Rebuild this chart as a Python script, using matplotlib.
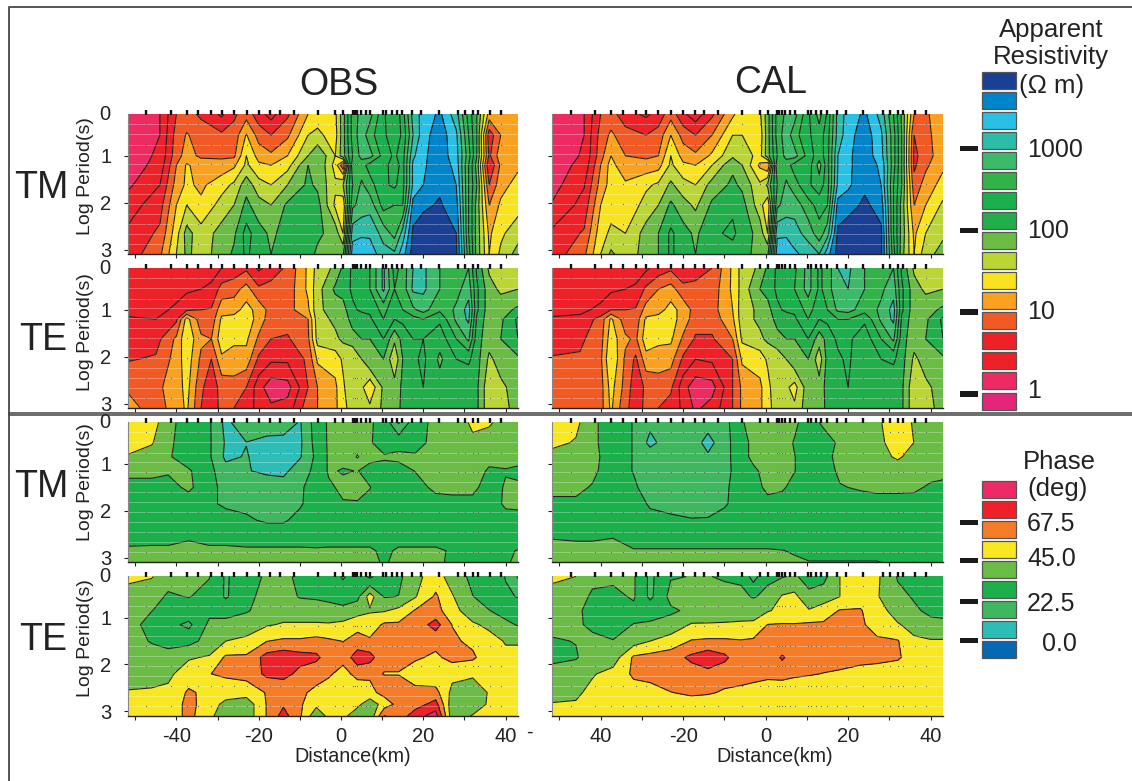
import numpy as np
import matplotlib
matplotlib.use('Agg')
import matplotlib.pyplot as plt
from matplotlib.patches import Rectangle

plt.rcParams['font.family'] = ['Liberation Sans', 'DejaVu Sans']

W, H = 1132, 781

# station positions along the profile (km)
stations = [-47.3, -41.4, -37.5, -34.7, -31.5, -29, -26, -22.9, -20, -17.2, -14.9, -11.5,
            -5.7, -1.4, 0.5, 2.8, 3.3, 3.9, 4.8, 6, 7.1, 10.3, 11, 12.3, 13.5, 14.8,
            17.3, 19.5, 23.7, 28.4, 30.1, 32, 33.3, 36.1, 38.8]
# periods sampled (log s)
sample_rows = [0.33, 0.54, 0.76, 0.97, 1.18, 1.39, 1.61, 1.82, 2.03, 2.24, 2.46, 2.67, 2.88]
dot_rows = [0.33, 0.76, 1.18, 1.61, 2.03, 2.46, 2.88]

# grid nodes for the resistivity sections
rho_rows = [0.11, 0.56, 1.0, 1.2, 1.62, 2.05, 2.65, 3.09]
x_tm = [-51.8, -44, -40, -37.5, -34, -29, -26, -23, -20, -17, -13, -8, -5.7, -1.4, 0.5, 2.8,
        5, 7, 10.3, 13, 15, 17.5, 20, 24, 28, 31, 33, 36, 38.8, 43]
x_te = [-51.8, -45, -40, -37.5, -34, -31.5, -29, -26, -23, -20, -17, -13, -8, -5.7, -1.4, 0.5, 2.8,
        5, 7, 10.3, 13, 15, 17.5, 20, 24, 28, 31, 33, 36, 38.8, 43]

# log10 apparent resistivity, one list per column of x_tm / x_te
rho_tm_obs = [
    [.1, .1, .1, .1, .2, .38, .55, .6],
    [.25, .25, .3, .35, .5, .65, .8, .95],
    [.75, .85, .9, 1.0, 1.1, 1.25, 1.4, 1.5],
    [.85, 1.02, 1.1, 1.28, 1.3, 1.5, 1.85, 1.8],
    [.7, .9, .95, 1.15, 1.2, 1.3, 1.6, 1.65],
    [.45, .8, .95, 1.1, 1.4, 1.6, 1.85, 1.85],
    [.7, .85, .95, 1.2, 1.55, 1.75, 1.95, 2.05],
    [.9, 1.27, 1.5, 1.55, 1.9, 2.07, 2.35, 2.3],
    [.6, .9, 1.15, 1.3, 1.6, 1.85, 2.1, 2.1],
    [.4, .75, 1.05, 1.25, 1.5, 1.75, 1.95, 2.0],
    [.7, .95, 1.25, 1.4, 1.75, 2.05, 2.1, 2.25],
    [1.25, 1.5, 1.75, 2.0, 2.05, 2.2, 2.25, 2.1],
    [1.4, 1.55, 1.98, 2.0, 1.95, 2.1, 2.05, 1.95],
    [1.45, 1.4, 1.5, 1.4, 1.55, 1.45, 1.9, 1.9],
    [1.9, 1.9, 1.9, .8, 1.75, 1.3, 1.5, 1.95],
    [2.6, 2.6, 2.5, 2.7, 2.5, 2.7, 3.15, 3.4],
    [2.85, 2.9, 2.85, 2.6, 2.8, 2.85, 3.2, 3.45],
    [2.85, 2.6, 2.85, 2.4, 2.6, 2.9, 3.2, 3.4],
    [2.3, 2.3, 2.4, 2.4, 2.3, 2.4, 2.9, 3.1],
    [2.0, 2.1, 2.2, 2.05, 2.2, 2.5, 2.65, 3.05],
    [2.4, 2.3, 2.4, 2.4, 2.4, 2.5, 3.1, 3.4],
    [3.1, 3.0, 3.2, 3.3, 3.3, 3.6, 3.8, 3.85],
    [3.35, 3.4, 3.45, 3.45, 3.5, 3.7, 3.9, 3.95],
    [3.55, 3.65, 3.65, 3.7, 3.7, 3.78, 3.95, 3.95],
    [3.1, 3.3, 3.35, 3.4, 3.5, 3.6, 3.75, 3.8],
    [2.4, 2.5, 2.6, 2.5, 2.5, 2.5, 2.5, 2.6],
    [2.0, 2.0, 2.0, 1.9, 2.0, 1.9, 1.9, 1.9],
    [1.15, .6, .7, .5, .75, 1.0, 1.2, 1.25],
    [1.2, 1.0, 1.15, 1.05, 1.15, 1.3, 1.45, 1.55],
    [1.2, 1.2, 1.2, 1.2, 1.35, 1.4, 1.65, 1.85],
]
rho_tm_cal = [
    [.1, .1, .1, .12, .15, .27, .55, .6],
    [.25, .25, .28, .33, .48, .6, .78, .95],
    [.75, .85, .9, 1.0, 1.1, 1.25, 1.4, 1.5],
    [.85, 1.05, 1.25, 1.35, 1.35, 1.4, 1.55, 1.8],
    [.6, .85, 1.0, 1.05, 1.3, 1.3, 1.5, 1.6],
    [.45, .75, .95, 1.1, 1.45, 1.6, 1.85, 1.85],
    [.6, .85, 1.0, 1.15, 1.55, 1.75, 2.0, 2.0],
    [.9, 1.25, 1.5, 1.55, 1.8, 2.05, 2.3, 2.3],
    [.55, .9, 1.15, 1.3, 1.6, 1.85, 2.1, 2.1],
    [.35, .75, 1.05, 1.25, 1.5, 1.7, 1.95, 2.0],
    [.7, 1.0, 1.3, 1.5, 1.85, 2.05, 2.2, 2.25],
    [1.2, 1.5, 1.7, 1.95, 2.05, 2.2, 2.3, 2.15],
    [1.4, 1.5, 1.65, 1.75, 1.95, 2.1, 2.15, 2.05],
    [1.45, 1.35, 1.4, 1.2, 1.55, 1.6, 1.9, 1.95],
    [1.9, 1.9, 1.9, 1.0, 1.8, 1.3, 1.5, 1.95],
    [2.6, 2.6, 2.5, 2.7, 2.5, 2.7, 3.2, 3.4],
    [2.8, 2.9, 2.85, 2.6, 2.8, 2.85, 3.2, 3.45],
    [2.85, 2.6, 2.85, 2.4, 2.6, 2.9, 3.1, 3.3],
    [2.3, 2.3, 2.4, 2.4, 2.3, 2.6, 2.9, 3.15],
    [1.9, 2.1, 2.1, 1.9, 2.1, 2.4, 2.6, 3.0],
    [2.3, 2.4, 2.4, 2.4, 2.4, 2.5, 2.9, 3.4],
    [3.1, 3.1, 3.25, 3.25, 3.3, 3.6, 3.8, 3.85],
    [3.35, 3.4, 3.45, 3.45, 3.45, 3.65, 3.9, 3.95],
    [3.55, 3.65, 3.65, 3.65, 3.7, 3.8, 3.95, 3.95],
    [3.15, 3.3, 3.35, 3.45, 3.5, 3.65, 3.8, 3.8],
    [2.5, 2.6, 2.6, 2.6, 2.5, 2.5, 2.5, 2.6],
    [1.95, 2.0, 2.0, 2.0, 2.0, 1.9, 1.9, 1.85],
    [1.0, .75, .7, .7, .85, 1.0, 1.2, 1.25],
    [.95, .9, .85, .95, 1.1, 1.25, 1.5, 1.65],
    [1.2, 1.2, 1.2, 1.2, 1.35, 1.55, 1.7, 1.85],
]
rho_te_obs = [
    [.3, .35, .45, .52, .62, .73, .97, 1.08],
    [.3, .35, .42, .5, .65, .78, .95, .9],
    [.3, .4, .55, .7, 1.05, 1.1, 1.1, 1.1],
    [.35, .45, .7, 1.35, 1.45, 1.4, 1.35, 1.3],
    [.3, .5, .75, .85, 1.05, .95, .8, .75],
    [.4, .55, .77, .85, 1.0, .75, .6, .65],
    [.5, .85, 1.15, 1.3, 1.4, 1.2, .85, .8],
    [.6, .9, 1.15, 1.35, 1.3, 1.15, .9, .75],
    [.7, 1.1, 1.35, 1.4, 1.3, 1.15, .75, .65],
    [.45, .8, 1.15, 1.15, .95, .7, .35, .4],
    [.6, .85, .9, .85, .75, .55, .1, .3],
    [.8, .85, .9, .85, .72, .55, .15, .35],
    [1.3, 1.3, 1.2, 1.0, .95, .8, .75, .9],
    [1.6, 1.65, 1.7, 1.65, 1.6, 1.3, 1.0, 1.0],
    [1.8, 2.05, 1.85, 1.8, 1.7, 1.35, 1.2, 1.2],
    [2.05, 2.1, 1.9, 1.85, 1.8, 1.55, 1.45, 1.4],
    [2.3, 2.3, 2.2, 2.1, 1.9, 1.5, 1.75, 1.65],
    [2.4, 2.3, 2.3, 2.1, 2.0, 1.75, 1.55, 1.55],
    [2.5, 2.5, 2.3, 2.2, 2.0, 2.0, 1.3, 1.55],
    [3.05, 3.05, 2.6, 2.5, 2.25, 2.0, 1.8, 1.8],
    [2.4, 2.5, 2.3, 2.25, 1.8, 1.55, 1.85, 1.9],
    [2.6, 2.6, 2.5, 2.3, 2.1, 2.0, 2.05, 2.05],
    [3.0, 3.05, 2.7, 2.4, 2.25, 2.2, 2.2, 2.1],
    [3.05, 3.05, 2.85, 2.5, 2.25, 2.3, 2.25, 2.2],
    [2.75, 2.75, 2.55, 2.3, 2.1, 1.95, 2.1, 2.2],
    [2.75, 2.65, 2.8, 2.8, 2.5, 2.25, 2.1, 2.1],
    [2.75, 2.9, 3.1, 3.05, 2.8, 2.3, 2.05, 2.2],
    [2.2, 2.3, 2.3, 2.2, 2.1, 2.1, 2.05, 2.05],
    [1.7, 1.85, 1.85, 1.85, 1.85, 1.7, 1.55, 1.55],
    [1.5, 1.7, 1.9, 1.95, 2.0, 1.85, 1.7, 1.65],
    [1.6, 1.75, 2.05, 2.3, 2.25, 1.95, 1.85, 1.85],
]
rho_te_cal = [
    [.3, .35, .45, .52, .65, .77, .85, .85],
    [.3, .35, .45, .55, .7, .78, .85, .85],
    [.3, .4, .55, .85, .9, .95, .9, .9],
    [.3, .45, .75, 1.3, 1.4, 1.5, 1.35, 1.3],
    [.3, .5, .75, .85, 1.05, .95, .9, .8],
    [.35, .55, .77, .85, .95, .7, .6, .65],
    [.45, .8, 1.1, 1.3, 1.4, 1.15, .8, .8],
    [.6, 1.0, 1.15, 1.35, 1.3, 1.15, .85, .75],
    [.7, 1.1, 1.35, 1.35, 1.3, 1.1, .8, .65],
    [.5, .85, 1.15, 1.15, .95, .7, .35, .45],
    [.6, .85, .9, .85, .72, .5, .1, .2],
    [.75, .85, .9, .85, .72, .55, .15, .35],
    [1.3, 1.3, 1.25, 1.2, 1.0, .75, .75, .75],
    [1.6, 1.6, 1.65, 1.65, 1.55, 1.3, 1.05, 1.05],
    [1.8, 2.0, 1.8, 1.8, 1.7, 1.35, 1.2, 1.2],
    [2.05, 2.1, 1.9, 1.85, 1.8, 1.55, 1.4, 1.4],
    [2.3, 2.3, 2.2, 2.1, 1.9, 1.6, 1.75, 1.65],
    [2.4, 2.3, 2.3, 2.1, 2.0, 1.75, 1.55, 1.55],
    [2.45, 2.5, 2.3, 2.2, 2.0, 1.95, 1.4, 1.55],
    [2.85, 2.85, 2.6, 2.5, 2.25, 2.0, 1.9, 1.9],
    [2.45, 2.45, 2.35, 2.25, 1.85, 1.6, 1.85, 1.9],
    [2.6, 2.6, 2.5, 2.3, 2.1, 2.1, 2.1, 2.05],
    [3.0, 3.0, 2.8, 2.5, 2.3, 2.2, 2.2, 2.1],
    [3.05, 3.0, 2.85, 2.5, 2.3, 2.3, 2.25, 2.2],
    [2.75, 2.75, 2.6, 2.3, 2.1, 2.0, 2.15, 2.2],
    [2.75, 2.7, 2.8, 2.8, 2.5, 2.25, 2.1, 2.1],
    [2.75, 2.9, 3.1, 3.05, 2.8, 2.3, 2.05, 2.2],
    [2.2, 2.3, 2.3, 2.2, 2.1, 2.1, 2.05, 2.05],
    [1.7, 1.85, 1.85, 1.85, 1.85, 1.7, 1.55, 1.55],
    [1.5, 1.7, 1.9, 1.95, 2.0, 1.85, 1.7, 1.65],
    [1.6, 1.75, 2.05, 2.3, 2.25, 1.95, 1.85, 1.85],
]

# grid nodes for the phase sections
phi_rows = [0.12, 0.55, 0.85, 1.15, 1.5, 1.85, 2.2, 2.6, 2.85, 3.1]
x_phi = [-51.8, -46, -42, -37, -32, -28, -23, -18, -14, -10, -6, -3, 0.5, 4, 7, 10.5, 14, 18,
         23, 27, 32, 36, 40, 43]

# phase in degrees, one list per column of x_phi
phi_tm_obs = [
    [50, 50, 44, 36, 31, 28, 27, 30, 36, 38],
    [50, 46, 40, 36, 31, 28, 27, 31, 36, 38],
    [38, 36, 35, 35, 30, 28, 27, 31, 36, 38],
    [27, 28, 28, 35, 36, 28, 27, 33, 38, 44],
    [24, 24, 24, 26, 26, 24, 27, 31, 36, 38],
    [8, 10, 9, 15, 19, 21, 26, 31, 36, 38],
    [20, 11, 12, 12, 17, 20, 24, 31, 35, 38],
    [20, 7, 6, 9, 18, 20, 21, 31, 35, 38],
    [20, 6, 6, 8, 17, 19, 21, 31, 35, 38],
    [10, 9, 10, 18, 21, 21, 26, 31, 35, 38],
    [28, 27, 25, 25, 27, 29, 30, 33, 34, 37],
    [35, 35, 35, 35, 32, 29, 29, 31, 35, 38],
    [36, 36, 37, 33, 36, 33, 31, 31, 35, 37],
    [36, 38, 46, 34, 37, 33, 30, 31, 35, 38],
    [35, 35, 36, 31, 34, 32, 30, 31, 35, 38],
    [30, 28, 35, 30, 30, 30, 31, 32, 32, 32],
    [10, 30, 36, 30, 30, 30, 29, 31, 35, 38],
    [30, 30, 35, 34, 30, 29, 29, 31, 35, 38],
    [36, 37, 37, 36, 36, 30, 29, 31, 35, 38],
    [38, 38, 38, 38, 37, 30, 29, 31, 33, 30],
    [47, 43, 40, 40, 37, 30, 29, 31, 33, 30],
    [47, 38, 38, 32, 28, 30, 29, 31, 33, 31],
    [38, 38, 38, 33, 35, 35, 31, 31, 33, 33],
    [36, 38, 37, 32, 35, 36, 30, 31, 34, 35],
]
phi_tm_cal = [
    [50, 48, 41, 38, 36, 32, 28, 33.7, 37, 38],
    [48, 44, 40, 38, 36, 32, 28, 33, 37, 38],
    [36, 36, 37, 36, 33, 30, 28, 33, 37, 38],
    [28, 28, 28, 28, 28, 28, 28, 34, 37, 38],
    [22, 22, 22, 22, 24, 28, 28, 30, 34.5, 37],
    [14, 8, 18, 16, 18, 21, 26, 30, 34.5, 37],
    [18, 18, 18, 18, 18, 20, 24, 30, 34.5, 36],
    [18, 18, 18, 18, 18, 19, 23, 30, 34.5, 36],
    [16, 7, 13, 18, 19, 20, 23, 30, 34.5, 36],
    [18, 18, 18, 18, 20, 21, 27, 30, 34.5, 36],
    [33, 30, 30, 29, 29, 28, 28, 30, 34.5, 36],
    [36, 36, 36, 32, 30, 28, 28, 30, 34.5, 36],
    [38, 38, 38, 37, 36, 31, 29, 30, 34.5, 35],
    [37, 38, 38, 38, 35, 30, 29, 30, 34, 35],
    [36, 33, 34, 34, 31, 29, 29, 31, 33, 35],
    [28, 29, 29, 29, 29, 28, 28, 31, 32, 34],
    [36, 28, 30, 28, 28, 28, 28, 31, 32, 34],
    [35, 36, 37, 36, 33, 29, 29, 31, 32, 34],
    [38, 38, 38, 38, 35, 29, 29, 31, 32, 34],
    [43.5, 42, 40, 38, 36, 30, 29, 31, 32, 34],
    [50, 50, 47, 38, 36, 30, 29, 31, 32, 33],
    [44, 44.9, 40, 38, 36, 29, 29, 31, 31, 33.8],
    [38, 38, 38, 38, 32, 29, 28, 29, 30, 31],
    [38, 38, 38, 37, 31, 29, 28, 29, 30, 30],
]
phi_te_obs = [
    [48, 40, 39, 38, 38, 38, 39, 46, 48, 48],
    [46, 36, 34, 30, 33, 38, 42, 46, 48, 48],
    [36, 33, 30, 26, 30, 38, 43, 47, 48, 48],
    [36, 34, 30, 20, 30, 44, 50, 58, 60, 60],
    [34, 32, 31, 36, 38, 46, 56, 53, 50, 47],
    [21, 21, 31, 36, 45, 58, 58, 50, 42, 40],
    [30, 32, 33, 38, 48, 58, 60, 50, 38, 38],
    [35, 36, 37, 44, 56, 72, 70, 57, 57, 57],
    [38, 38, 40, 46, 58, 75, 72, 57, 66, 72],
    [30, 33, 40, 46, 58, 72, 64, 58, 58, 58],
    [30, 32, 40, 46, 60, 70, 60, 54, 48, 37],
    [30, 31, 38, 46, 58, 62, 58, 50, 46, 48],
    [21, 30, 36, 48, 56, 60, 52, 50, 48, 48],
    [30, 31, 40, 53, 60, 74, 60, 48, 48, 38],
    [20, 50, 44, 50, 58, 72, 58, 53, 38, 36],
    [30, 33, 44, 58, 58, 58, 56, 60, 50, 68],
    [31, 34, 48, 58, 58, 58, 56, 60, 60, 60],
    [42, 44, 57, 60, 60, 58, 50, 60, 62, 74],
    [50, 58, 60, 72, 60, 54, 48, 60, 72, 84],
    [40, 46, 50, 56, 58, 60, 48, 42, 38, 38],
    [31, 34, 37, 47, 54, 58, 47, 38, 37, 46],
    [30, 30, 34, 42, 50, 50, 48, 46, 47, 48],
    [22, 24, 30, 36, 44, 48, 48, 48, 48, 48],
    [10, 22, 30, 33, 44, 48, 48, 48, 48, 48],
]
phi_te_cal = [
    [50, 36, 35, 36, 33, 31, 38, 42, 45.5, 48],
    [45, 36, 36, 36, 34, 33, 39, 43, 46, 48],
    [35, 33, 30, 31, 37, 38, 44, 48, 48, 48],
    [36, 31, 30, 31, 34, 39, 49, 50, 50, 50],
    [35, 35, 31, 34, 40, 58, 58, 52, 50, 50],
    [20, 20, 30, 35, 45, 60, 60, 52, 50, 50],
    [33, 37, 32, 38, 50, 62, 62, 56, 50, 50],
    [34, 36, 36, 46, 57, 70, 62, 58, 52, 50],
    [34, 37, 38, 46, 58, 75, 64, 57.5, 50, 48],
    [33, 36, 40, 46, 58, 70, 61, 55, 48, 48],
    [32, 36, 39, 47, 57, 60, 60, 54, 48, 48],
    [18, 33, 40, 47, 58, 60, 60, 52, 48, 48],
    [32, 36, 44, 56.5, 58, 60, 59, 50, 48, 48],
    [33, 46, 48, 57, 58, 69, 60, 49, 48, 48],
    [35, 48, 47, 57, 60, 62, 58, 49, 48, 48],
    [30, 36, 46, 58, 59, 60, 57, 49, 48, 48],
    [30, 40, 50, 58, 58, 60, 56, 49, 48, 48],
    [45, 45, 57, 60, 60, 60, 55, 49, 48, 48],
    [50, 52, 57, 58, 60, 60, 52, 48, 48, 48],
    [47, 46, 50, 52, 58, 60, 50, 48, 48, 48],
    [33, 36, 40, 46, 57, 58, 48, 48, 48, 48],
    [32, 33, 35, 41, 47, 50, 48, 48, 48, 48],
    [25, 27, 32, 36, 46, 48, 48, 48, 48, 48],
    [24, 26, 31, 36, 46, 48, 48, 48, 48, 48],
]

# colour classes, low to high
rho_levels = [-0.25, 0, 0.25, 0.5, 0.75, 1, 1.25, 1.5, 1.75, 2, 2.25, 2.5, 2.75, 3, 3.25, 3.5, 3.75, 4.25]
rho_colors = ['#E4257A', '#EE2A62', '#EE2129', '#EE2129', '#F15A25', '#FAA21F', '#F9E21E', '#BBD634',
              '#6ABC45', '#22AF4B', '#1BB04C', '#32B34A', '#3DB96A', '#2CBDA6', '#29C0E6', '#0085CA', '#1A4096']
rho_ticks = ['1', '10', '100', '1000']

phi_levels = [-20, 0, 11.25, 22.5, 33.75, 45, 56.25, 67.5, 78.75, 95]
phi_colors = ['#0468B4', '#2DBDB6', '#3FB75F', '#1CB04B', '#6ABC45', '#F9E721', '#F67B27', '#EE2129', '#EC2A66']
phi_ticks = ['0.0', '22.5', '45.0', '67.5']

distance_ticks = [-50, -40, -30, -20, -10, 0, 10, 20, 30, 40]
labels_obs = ['', '-40', '', '-20', '', '0', '', '20', '', '40']
labels_cal = ['', '40', '', '-20', '', '0', '', '20', '', '40']


def px_axes(fig, left, top, right, bottom):
    """Axes placed by its pixel box, y counted from the top of the image"""
    return fig.add_axes([left / W, 1 - bottom / H, (right - left) / W, (bottom - top) / H])


def draw_panel(fig, box, x, rows, columns, levels, colors, left_labels, bottom_labels):
    ax = px_axes(fig, *box)
    z = np.array(columns).T
    ax.contourf(x, rows, z, levels=levels, colors=colors)
    ax.contour(x, rows, z, levels=levels[1:-1], colors='#222222', linewidths=0.8)

    # faint lines and small dots where the periods were sampled
    for r in sample_rows:
        ax.axhline(r, color='white', lw=0.6, alpha=0.35)
    sx, sy = np.meshgrid(stations, dot_rows)
    ax.scatter(sx.ravel(), sy.ravel(), s=0.7, c='#222222', linewidths=0)

    # station marks along the top edge
    ax.plot(stations, [0.075] * len(stations), ls='none', marker='|', ms=3.6, mew=1.7,
            color='#111111', clip_on=False)

    ax.set_xlim(-51.8, 43)
    ax.set_ylim(3.09, 0.11)
    ax.set_xticks(distance_ticks)
    ax.set_yticks([1, 2, 3])
    ax.tick_params(axis='both', length=3, width=0.8, color='#222222', labelsize=14.5,
                   labelcolor='#222222')
    ax.tick_params(axis='y', pad=9)
    ax.tick_params(axis='x', pad=5)
    ax.set_xticklabels(bottom_labels if bottom_labels else [])
    ax.set_yticklabels(['1', '2', '3'] if left_labels else [])
    for side in ['top', 'right']:
        ax.spines[side].set_visible(False)
    ax.spines['left'].set_color('#888888')
    ax.spines['left'].set_linewidth(0.8)
    ax.spines['bottom'].set_color('#222222')
    ax.spines['bottom'].set_linewidth(1.0)
    return ax


def draw_key(over, top, colors, ticks, bar_y, label_y, label_x):
    # boxes run from the highest class at the top
    for i, c in enumerate(colors[::-1]):
        y = top + i * 20.05
        over.add_patch(Rectangle((982, y), 34, 17, facecolor=c, edgecolor='#555555', lw=0.9))
    for y in bar_y:
        over.add_patch(Rectangle((959.5, y - 2.7), 18.5, 5.4, facecolor='#1a1a1a', edgecolor='none'))
    for t, y, tx in zip(ticks, label_y, label_x):
        over.text(tx, y, t, fontsize=18, color='#222222', ha='left', va='center')


def main():
    fig = plt.figure(figsize=(W / 100, H / 100), dpi=100)

    x_left = (127.8, 518)
    x_right = (552, 943)
    y_rows = [(114, 254), (268, 408), (422, 562), (576, 715.5)]

    draw_panel(fig, (x_left[0], y_rows[0][0], x_left[1], y_rows[0][1]), x_tm, rho_rows, rho_tm_obs,
               rho_levels, rho_colors, True, None)
    draw_panel(fig, (x_right[0], y_rows[0][0], x_right[1], y_rows[0][1]), x_tm, rho_rows, rho_tm_cal,
               rho_levels, rho_colors, False, None)
    draw_panel(fig, (x_left[0], y_rows[1][0], x_left[1], y_rows[1][1]), x_te, rho_rows, rho_te_obs,
               rho_levels, rho_colors, True, None)
    draw_panel(fig, (x_right[0], y_rows[1][0], x_right[1], y_rows[1][1]), x_te, rho_rows, rho_te_cal,
               rho_levels, rho_colors, False, None)
    draw_panel(fig, (x_left[0], y_rows[2][0], x_left[1], y_rows[2][1]), x_phi, phi_rows, phi_tm_obs,
               phi_levels, phi_colors, True, None)
    draw_panel(fig, (x_right[0], y_rows[2][0], x_right[1], y_rows[2][1]), x_phi, phi_rows, phi_tm_cal,
               phi_levels, phi_colors, False, None)
    draw_panel(fig, (x_left[0], y_rows[3][0], x_left[1], y_rows[3][1]), x_phi, phi_rows, phi_te_obs,
               phi_levels, phi_colors, True, labels_obs)
    draw_panel(fig, (x_right[0], y_rows[3][0], x_right[1], y_rows[3][1]), x_phi, phi_rows, phi_te_cal,
               phi_levels, phi_colors, False, labels_cal)

    # overlay in image pixels for the frame, headings and colour keys
    over = fig.add_axes([0, 0, 1, 1], zorder=5)
    over.set_xlim(0, W)
    over.set_ylim(H, 0)
    over.axis('off')
    over.patch.set_alpha(0)

    over.plot([8.5, 8.5, W], [H, 7, 7], color='#555555', lw=1.4)
    over.plot([8.5, W], [412.8, 412.8], color='#444444', lw=1.1)
    over.plot([8.5, W], [415.2, 415.2], color='#444444', lw=1.1)

    txt = '#222222'
    over.text(338.5, 85, 'OBS', fontsize=27, color=txt, ha='center', va='center')
    over.text(771, 83, 'CAL', fontsize=27, color=txt, ha='center', va='center')
    for label, x, y in [('TM', 41, 188), ('TE', 43, 340), ('TM', 41, 487), ('TE', 43, 640)]:
        over.text(x, y, label, fontsize=27, color=txt, ha='center', va='center')
    for y in [176, 332.5, 482.5, 638]:
        over.text(86, y, 'Log Period(s)', fontsize=14, color=txt, rotation=90, ha='center', va='center')
    for y in [114, 268, 422, 576]:
        over.text(110.5, y + 1, '0', fontsize=14.5, color=txt, ha='right', va='center')
    over.text(353, 756, 'Distance(km)', fontsize=14.2, color=txt, ha='center', va='center')
    over.text(774.5, 756, 'Distance(km)', fontsize=14.2, color=txt, ha='center', va='center')
    over.text(529, 732, '-', fontsize=14.5, color=txt, ha='center', va='center')

    over.text(1051, 30, 'Apparent', fontsize=18.5, color=txt, ha='center', va='center')
    over.text(1051, 57, 'Resistivity', fontsize=18.5, color=txt, ha='center', va='center')
    over.text(1052, 86, '(\u03a9 m)', fontsize=18.5, color=txt, ha='center', va='center')
    over.text(1059, 462, 'Phase', fontsize=18.5, color=txt, ha='center', va='center')
    over.text(1058, 489, '(deg)', fontsize=18.5, color=txt, ha='center', va='center')

    draw_key(over, 71.7, rho_colors, rho_ticks, [394, 311.8, 230.5, 148.3],
             [391, 312, 231, 150], [1027, 1027, 1027, 1027])
    draw_key(over, 481, phi_colors, phi_ticks, [640.7, 601.7, 560.3, 522.7],
             [644, 604, 559, 524], [1042, 1027, 1027, 1027])

    fig.savefig('out.png', dpi=100, facecolor='white')


if __name__ == "__main__":
    main()
